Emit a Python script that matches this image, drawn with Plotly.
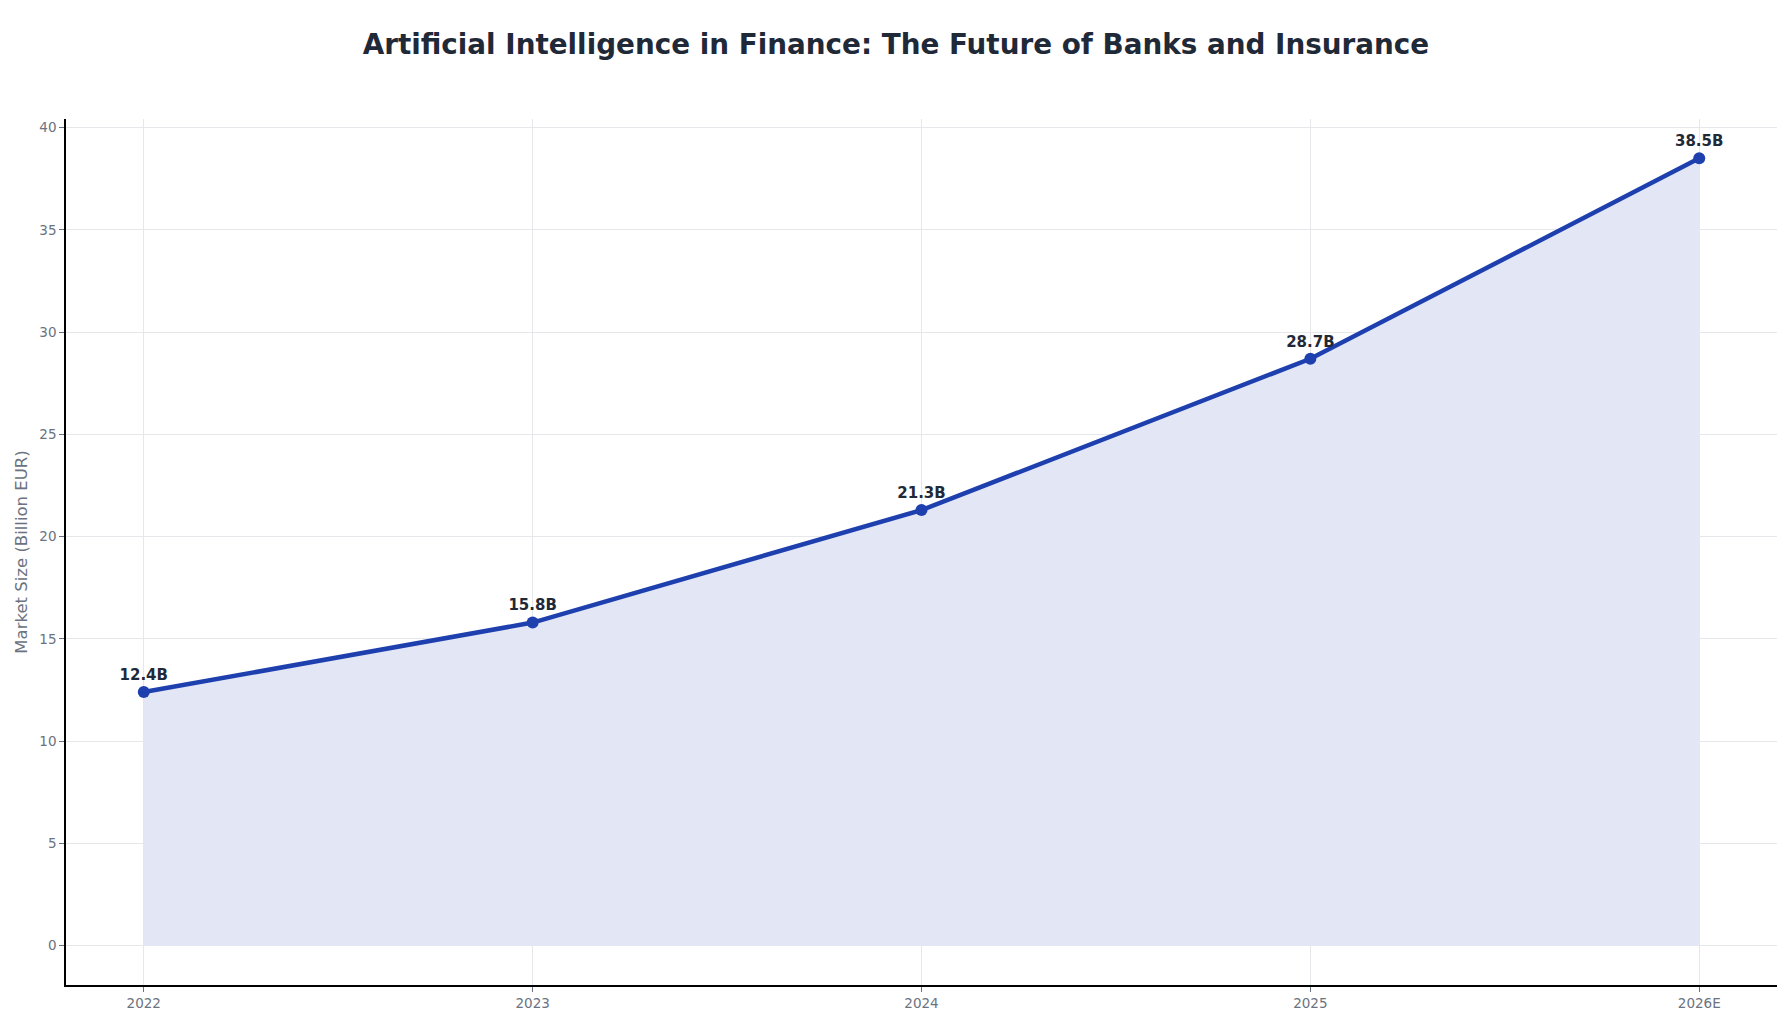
import plotly.graph_objects as go

# market size of AI in finance, billion EUR
years = ['2022', '2023', '2024', '2025', '2026E']
market_size = [12.4, 15.8, 21.3, 28.7, 38.5]
labels = ['12.4B', '15.8B', '21.3B', '28.7B', '38.5B']

FONT = 'DejaVu Sans'
DARK = '#1f2937'
GREY = '#6b7280'
BLUE = '#1e40af'

fig = go.Figure()

fig.add_trace(go.Scatter(
    x=years, y=market_size,
    mode='lines+markers+text',
    line=dict(color=BLUE, width=4.5),
    marker=dict(color=BLUE, size=12),
    fill='tozeroy', fillcolor='#e2e6f5',
    text=labels, textposition='top center',
    textfont=dict(family=FONT, size=15, color=DARK, weight='bold'),
    hoverinfo='x+y', showlegend=False,
))

axis_common = dict(
    showgrid=True, gridcolor='#e5e7eb', gridwidth=1,
    showline=True, linecolor='black', linewidth=1.5,
    ticks='outside', ticklen=5, tickcolor=GREY,
    tickfont=dict(family=FONT, size=13.5, color=GREY),
    zeroline=False, layer='below traces',
)

fig.update_layout(
    width=1792, height=1024,
    paper_bgcolor='white', plot_bgcolor='white',
    margin=dict(l=58, r=23, t=111, b=47, autoexpand=False),
    title=dict(text='<b>Artificial Intelligence in Finance: The Future of Banks and Insurance</b>',
               x=0.4955, xanchor='center', y=0.965, yanchor='middle',
               font=dict(family=FONT, size=27.8, color=DARK)),
    xaxis=dict(type='category', range=[-0.2, 4.2], **axis_common),
    yaxis=dict(range=[-1.925, 40.425], dtick=5,
               title=dict(text='Market Size (Billion EUR)', standoff=8,
                          font=dict(family=FONT, size=16.5, color=GREY)),
               **axis_common),
)

fig.write_html('out.html')
